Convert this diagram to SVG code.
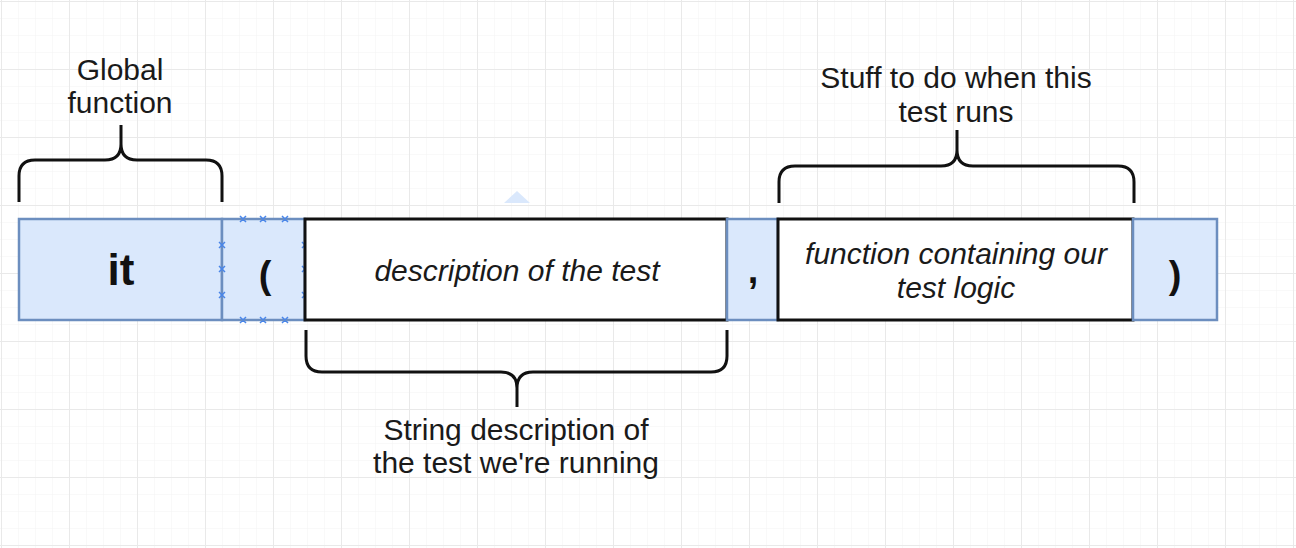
<svg xmlns="http://www.w3.org/2000/svg" width="1296" height="548" viewBox="0 0 1296 548">
<defs>
<pattern id="minor" x="1" y="1" width="17" height="17" patternUnits="userSpaceOnUse">
<path d="M17,0 V17 M0,17 H17" fill="none" stroke="#f3f3f3" stroke-width="1"/>
</pattern>
<pattern id="major" x="1" y="1" width="68" height="68" patternUnits="userSpaceOnUse">
<rect width="68" height="68" fill="url(#minor)"/>
<path d="M0,0.5 H68 M0.5,0 V68" fill="none" stroke="#e9e9e9" stroke-width="1"/>
</pattern>
</defs>
<style>
.blue{fill:#dae8fc;stroke:#6c8ebf;stroke-width:2.5}
.white{fill:#ffffff;stroke:#111111;stroke-width:3}
.brace{fill:none;stroke:#111111;stroke-width:3;stroke-linecap:butt;stroke-linejoin:round}
.lbl{font-family:"Liberation Sans",Arial,sans-serif;font-size:30px;fill:#1a1a1a;text-anchor:middle}
.it{font-family:"Liberation Sans",Arial,sans-serif;font-size:30px;font-style:italic;fill:#1a1a1a;text-anchor:middle}
.sym{font-family:"Liberation Sans",Arial,sans-serif;font-weight:bold;fill:#111111;text-anchor:middle}
.hx{stroke:#4a86e8;stroke-width:1.5;fill:none}
</style>
<rect width="1296" height="548" fill="#ffffff"/>
<rect width="1296" height="548" fill="url(#major)"/>

<g id="node-it">
<rect class="blue" x="19" y="219" width="203" height="101"/>
<text class="sym" x="121" y="285" font-size="44">it</text>
</g>
<g id="node-open-paren">
<rect class="blue" x="222" y="219" width="83" height="101"/>
<text class="sym" x="265" y="288" font-size="38">(</text>
<g class="hx">
<path d="M240,216 l6,6 M246,216 l-6,6 M260,216 l6,6 M266,216 l-6,6 M282,216 l6,6 M288,216 l-6,6"/>
<path d="M240,317 l6,6 M246,317 l-6,6 M260,317 l6,6 M266,317 l-6,6 M282,317 l6,6 M288,317 l-6,6"/>
<path d="M219,242 l6,6 M225,242 l-6,6 M219,266 l6,6 M225,266 l-6,6 M219,292 l6,6 M225,292 l-6,6"/>
<path d="M302,242 l6,6 M308,242 l-6,6 M302,266 l6,6 M308,266 l-6,6 M302,292 l6,6 M308,292 l-6,6"/>
</g>
</g>
<g id="node-description">
<rect class="white" x="305" y="219" width="422" height="101"/>
<text class="it" x="517" y="281">description of the test</text>
</g>
<g id="node-comma">
<rect class="blue" x="727" y="219" width="51" height="101"/>
<text class="sym" x="753" y="283" font-size="38">,</text>
</g>
<g id="node-function">
<rect class="white" x="778" y="219" width="355" height="101"/>
<text class="it" x="956" y="264">function containing our</text>
<text class="it" x="956" y="298">test logic</text>
</g>
<g id="node-close-paren">
<rect class="blue" x="1133" y="219" width="84" height="101"/>
<text class="sym" x="1175" y="288" font-size="38">)</text>
</g>

<g id="connectors">
<path class="brace" d="M19,202 V176 Q19,160 35,160 H105 Q121,160 121,144 V125 M121,144 Q121,160 137,160 H206 Q222,160 222,176 V202"/>
<path class="brace" d="M779,203 V182 Q779,166 795,166 H941 Q957,166 957,150 V130 M957,150 Q957,166 973,166 H1118 Q1134,166 1134,182 V203"/>
<path class="brace" d="M306,330 V356 Q306,372 322,372 H501 Q517,372 517,388 V407 M517,388 Q517,372 533,372 H711 Q727,372 727,356 V330"/>
</g>

<g id="label-global">
<text class="lbl" x="120" y="80">Global</text>
<text class="lbl" x="120" y="113">function</text>
</g>
<g id="label-stuff">
<text class="lbl" x="956" y="88">Stuff to do when this</text>
<text class="lbl" x="956" y="122">test runs</text>
</g>
<g id="label-string">
<text class="lbl" x="516" y="440">String description of</text>
<text class="lbl" x="516" y="473">the test we're running</text>
</g>
<polygon points="504,203 517,191 530,203" fill="#dae8fc"/>
</svg>
